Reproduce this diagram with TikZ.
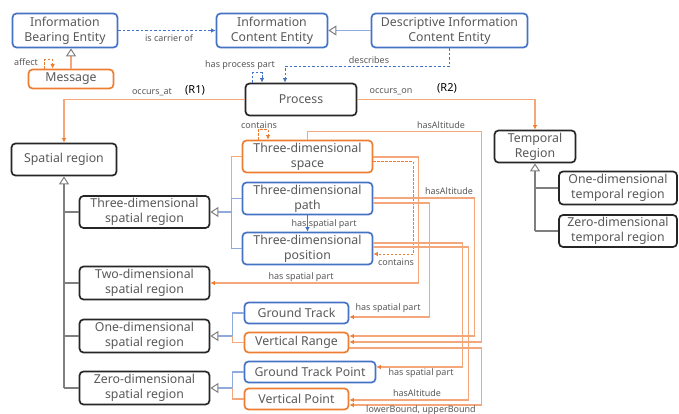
\documentclass[tikz,border=0pt]{standalone}
\usepackage{fontspec}
\setmainfont{Noto Sans}
\usetikzlibrary{arrows.meta,calc}
\definecolor{blueC}{HTML}{4472C4}
\definecolor{orangeC}{HTML}{ED7D31}
\definecolor{lineO}{HTML}{F4A77A}
\definecolor{lineB}{HTML}{8FAADC}
\definecolor{txt}{HTML}{595959}
\definecolor{edgeK}{HTML}{262626}
\definecolor{treeG}{HTML}{7F7F7F}
\begin{document}
\begin{tikzpicture}[x=1pt,y=-1pt,
  box/.style={draw, rounded corners=4pt, line width=1.7pt, fill=white, align=center,
    text=txt, inner sep=0pt, font=\fontsize{12.3}{15}\selectfont},
  bbox/.style={box, draw=blueC},
  obox/.style={box, draw=orangeC},
  kbox/.style={box, draw=edgeK},
  lbl/.style={text=txt, inner sep=1pt, font=\fontsize{9}{10}\selectfont},
  tag/.style={text=black, inner sep=1pt, font=\bfseries\fontsize{11}{12}\selectfont},
  otip/.style={-{Latex[length=4.5pt,width=4.5pt,color=orangeC]}},
  btip/.style={-{Latex[length=4.5pt,width=4.5pt,color=blueC]}},
  gentip/.style={-{Triangle[length=8pt,width=10pt,fill=white,color=treeG,line width=1pt]}},
  oline/.style={draw=lineO, line width=1.4pt},
  bline/.style={draw=lineB, line width=1.3pt},
  treeline/.style={draw=treeG, line width=1.2pt},
  oarrow/.style={oline, otip},
  odash/.style={draw=orangeC, line width=1pt, dash pattern=on 2.5pt off 1.5pt, otip},
  bdash/.style={draw=blueC, line width=1pt, dash pattern=on 2.5pt off 2pt, btip},
]
\useasboundingbox (0,0) rectangle (679,414);

% ---------- information entities ----------
\node[bbox, minimum width=105pt, minimum height=34pt] (ibe) at (65,30.5) {Information\\Bearing Entity};
\node[obox, minimum width=85pt, minimum height=19pt] (msg) at (71,79) {Message};
\node[bbox, minimum width=111pt, minimum height=34pt] (ice) at (272,30.5) {Information\\Content Entity};
\node[bbox, minimum width=156pt, minimum height=34pt] (dice) at (449.5,30.5) {Descriptive Information\\Content Entity};

% ---------- process and regions ----------
\node[kbox, minimum width=111pt, minimum height=32pt] (proc) at (301,99.5) {Process};
\node[kbox, minimum width=105pt, minimum height=32pt] (sr) at (64,159.5) {Spatial region};
\node[kbox, minimum width=81pt, minimum height=32pt] (tr) at (535,146.5) {Temporal\\Region};
\node[kbox, minimum width=118pt, minimum height=33pt] (t1) at (618,188) {One-dimensional\\temporal region};
\node[kbox, minimum width=118pt, minimum height=32pt] (t0) at (618,231) {Zero-dimensional\\temporal region};

\node[kbox, minimum width=130pt, minimum height=32pt] (s3) at (144.5,212) {Three-dimensional\\spatial region};
\node[kbox, minimum width=130pt, minimum height=33pt] (s2) at (144.5,283) {Two-dimensional\\spatial region};
\node[kbox, minimum width=130pt, minimum height=33pt] (s1) at (144.5,336) {One-dimensional\\spatial region};
\node[kbox, minimum width=130pt, minimum height=33pt] (s0) at (144.5,388) {Zero-dimensional\\spatial region};

% ---------- three-dimensional entities ----------
\node[obox, minimum width=130pt, minimum height=32pt] (space) at (307.5,156.5) {Three-dimensional\\space};
\node[bbox, minimum width=130pt, minimum height=32pt] (path) at (307.5,198.5) {Three-dimensional\\path};
\node[bbox, minimum width=130pt, minimum height=32pt] (pos) at (307.5,248.5) {Three-dimensional\\position};

\node[bbox, minimum width=104pt, minimum height=21pt] (gt) at (296.5,313) {Ground Track};
\node[obox, minimum width=104pt, minimum height=20pt] (vr) at (296.5,342.5) {Vertical Range};
\node[bbox, minimum width=131pt, minimum height=21pt] (gtp) at (310,372) {Ground Track Point};
\node[obox, minimum width=104pt, minimum height=21pt] (vp) at (296.5,399) {Vertical Point};

% ---------- information relations ----------
\draw[oline, gentip] (msg.north) -- (msg.north |- ibe.south);
\draw[odash] ($(msg.north west)+(17,0)$) -- ++(0,-9) -| ($(msg.north west)+(25,0)$);
\node[lbl] (laffect) at (26,62) {affect};

\draw[bdash] (ibe.east) -- (ice.west);
\node[lbl] (lcarrier) at (169,38) {is carrier of};

\draw[bline, gentip] (dice.west) -- (ice.east);

\draw[bdash] (dice.south) -- ++(0,18) -| ($(proc.north)+(-16,0)$);
\node[lbl] (ldescribes) at (369,60) {describes};

\draw[bdash] ($(proc.north)+(-49,0)$) -- ++(0,-10) -| ($(proc.north)+(-39,0)$);
\node[lbl] (lprocpart) at (240,65) {has process part};

% ---------- occurrence ----------
\draw[oarrow] (proc.west) -| (sr.north);
\node[lbl] (loccat) at (152,92) {occurs\_at};
\node[tag] (lr1) at (195,90) {(R1)};
\draw[oarrow] (proc.east) -| (tr.north);
\node[lbl] (loccon) at (391,92) {occurs\_on};
\node[tag] (lr2) at (447,88) {(R2)};

% ---------- subclass trees ----------
\draw[treeline, gentip] (sr.south |- s0.west) -- (sr.south);
\foreach \n in {s3,s2,s1,s0} \draw[treeline] (sr.south |- \n.west) -- (\n.west);
\draw[treeline, gentip] (tr.south |- t0.west) -- (tr.south);
\foreach \n in {t1,t0} \draw[treeline] (tr.south |- \n.west) -- (\n.west);

\coordinate (j3) at ($(s3.east)+(21,0)$);
\draw[oline] (space.west) -| (j3);
\draw[bline] (path.west) -| (j3);
\draw[bline] (pos.west) -| (j3);
\draw[bline, gentip] (j3) -- (s3.east);

\coordinate (j1) at ($(s1.east)+(22,0)$);
\draw[oline] (vr.west) -| (j1);
\draw[bline] (gt.west) -| (j1);
\draw[bline, gentip] (j1) -- (s1.east);

\coordinate (j0) at ($(s0.east)+(22,0)$);
\draw[oline] (vp.west) -| (j0);
\draw[bline] (gtp.west) -| (j0);
\draw[bline, gentip] (j0) -- (s0.east);

% ---------- spatial parts and altitudes ----------
\draw[odash] ($(space.north)+(-49.5,0)$) -- ++(0,-10) -| ($(space.north)+(-39.5,0)$);
\node[lbl] (lcont1) at (259,125) {contains};

\draw[draw=blueC, line width=1.2pt, btip] (path.south) -- (pos.north);
\node[lbl] (lpart1) at (324,224) {has spatial part};

\draw[odash] ($(space.east)+(0,5.5)$) -- ++(40,0) |- ($(pos.east)+(0,5.5)$);
\node[lbl] (lcont2) at (396,262) {contains};

\draw[oarrow] ($(space.east)+(0,0.5)$) -- ++(45,0) |- (s2.east);
\node[lbl] (lpart2) at (301,277) {has spatial part};

\draw[oarrow] (space.north) -- ++(0,-8) -| ($(vr.east)+(132,-0.5)$) -- ($(vr.east)+(0,-0.5)$);
\node[lbl] (lalt1) at (441,125) {hasAltitude};

\draw[oarrow] ($(path.east)+(0,-0.5)$) -| ($(vr.east)+(125,-6.5)$) -- ($(vr.east)+(0,-6.5)$);
\node[lbl] (lalt2) at (449,191) {hasAltitude};

\draw[oarrow] ($(path.east)+(0,4.5)$) -| ($(gt.east)+(80,4)$) -- ($(gt.east)+(0,4)$);
\node[lbl] (lpart3) at (388,308) {has spatial part};

\draw[oarrow] ($(pos.east)+(0,-5.5)$) -| ($(gtp.east)+(86,-5)$) -- ($(gtp.east)+(0,-5)$);
\node[lbl] (lpart4) at (421,373) {has spatial part};

\draw[oarrow] ($(pos.east)+(0,-1.5)$) -| ($(vp.east)+(119,1)$) -- ($(vp.east)+(0,1)$);
\node[lbl] (lalt3) at (417,393) {hasAltitude};

\draw[oarrow] ($(vr.east)+(0,5.5)$) -| ($(vp.east)+(132,6)$) -- ($(vp.east)+(0,6)$);
\node[lbl] (lbounds) at (421,410) {lowerBound, upperBound};
\end{tikzpicture}
\end{document}
